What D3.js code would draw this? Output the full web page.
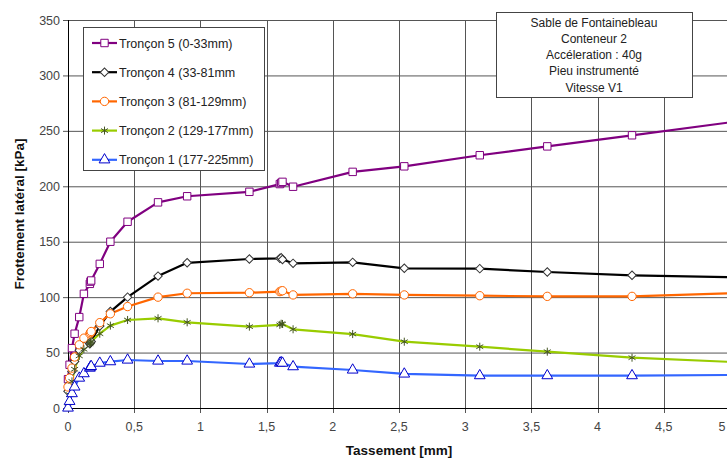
<!DOCTYPE html>
<html><head><meta charset="utf-8">
<script src="https://cdn.jsdelivr.net/npm/d3@7"></script>
<style>
html,body{margin:0;padding:0;background:#fff;overflow:hidden}
svg{display:block;font-family:"Liberation Sans",Arial,sans-serif}
</style></head>
<body>
<script>
// Settlement values (mm), shared by all series
const tassement = [0, 0.012, 0.03, 0.05, 0.085, 0.12, 0.165, 0.17, 0.175, 0.24, 0.32, 0.45, 0.68, 0.90, 1.37, 1.60, 1.61, 1.62, 1.70, 2.15, 2.54, 3.11, 3.62, 4.26, 5.02];
const troncon5 = [26, 39, 54, 67, 82, 103, 112, 114, 115, 130, 150, 168, 185.5, 191, 195, 202, 203, 204, 199.6, 213, 218, 228, 236, 246, 258];
const troncon4 = [15, 22, 33, 42, 52, 56, 58, 59, 60, 74, 87, 100, 119, 131, 134.4, 135, 135.5, 134, 130.5, 131.4, 126, 125.7, 122.7, 119.7, 118];
const troncon3 = [19, 27, 36, 46, 57, 63, 67, 68, 69, 77, 85, 91.5, 100, 103.5, 104, 105, 105.5, 105.8, 102, 103, 102, 101.3, 100.7, 100.7, 103.5];
const troncon2 = [1, 12, 24, 35, 47, 53, 58, 59, 60, 67, 74.3, 79.4, 80.9, 77.3, 73.4, 75, 76, 75.8, 71, 66.7, 59.8, 55.3, 50.8, 45.4, 41.5];
const troncon1 = [0, 6, 13, 19, 27, 31, 36, 37, 37.5, 40.5, 41.8, 43.3, 42.4, 42.4, 39.7, 40.5, 41, 40.5, 37.3, 34.3, 30.7, 29.2, 29.2, 29.2, 29.8];
const seriesNames = ["Tronçon 5 (0-33mm)", "Tronçon 4 (33-81mm", "Tronçon 3 (81-129mm)", "Tronçon 2 (129-177mm)", "Tronçon 1 (177-225mm)"];
const xTicks = [0, 0.5, 1, 1.5, 2, 2.5, 3, 3.5, 4, 4.5, 5];
const xTickLabels = ["0", "0,5", "1", "1,5", "2", "2,5", "3", "3,5", "4", "4,5", "5"];
const yTicks = [0, 50, 100, 150, 200, 250, 300, 350];
const infoLines = ["Sable de Fontainebleau", "Conteneur 2", "Accéleration : 40g", "Pieu instrumenté", "Vitesse V1"];
const xTitle = "Tassement [mm]";
const yTitle = "Frottement latéral [kPa]";

const W = 727, H = 460;
const L = 68, R = 730, T = 20, B = 408;

const styles = [
  {color: "#800080", sym: d3.symbolSquare, fill: "#fff", stroke: "#800080", size: 55, rot: 0},
  {color: "#000000", sym: d3.symbolSquare, fill: "#fff", stroke: "#333", size: 36, rot: 45},
  {color: "#FF6600", sym: d3.symbolCircle, fill: "#fff", stroke: "#FF6600", size: 55, rot: 0},
  {color: "#99CC00", sym: d3.symbolAsterisk, fill: "none", stroke: "#445522", size: 45, rot: 0},
  {color: "#3366FF", sym: d3.symbolTriangle, fill: "#fff", stroke: "#0000CC", size: 50, rot: 0}
];
const allSeries = [troncon5, troncon4, troncon3, troncon2, troncon1];

const svg = d3.select("body").append("svg").attr("width", W).attr("height", H);

const x = d3.scaleLinear().domain([0, 5]).range([L, R]);
const y = d3.scaleLinear().domain([0, 350]).range([B, T]);

svg.append("defs").append("clipPath").attr("id", "clip")
  .append("rect").attr("x", L - 6).attr("y", T - 6).attr("width", R - L + 12).attr("height", B - T + 12);

// grid
const g = svg.append("g");
g.selectAll("line.h").data(yTicks).join("line")
  .attr("x1", L - 5).attr("x2", R).attr("y1", d => y(d) + 0.5).attr("y2", d => y(d) + 0.5)
  .attr("stroke", "#555").attr("stroke-width", 1);
g.selectAll("line.v").data(xTicks).join("line")
  .attr("x1", d => Math.round(x(d)) + 0.5).attr("x2", d => Math.round(x(d)) + 0.5)
  .attr("y1", T).attr("y2", B + 5)
  .attr("stroke", "#555").attr("stroke-width", 1);
// axis lines
g.append("line").attr("x1", L + 0.5).attr("x2", L + 0.5).attr("y1", T).attr("y2", B).attr("stroke", "#000");
g.append("line").attr("x1", L).attr("x2", R).attr("y1", B + 0.5).attr("y2", B + 0.5).attr("stroke", "#000");

// tick labels
svg.selectAll("text.yt").data(yTicks).join("text")
  .attr("x", L - 8).attr("y", d => y(d) + 4.5).attr("text-anchor", "end")
  .attr("font-size", 12.5).attr("fill", "#444").text(d => d);
svg.selectAll("text.xt").data(xTicks).join("text")
  .attr("x", d => Math.min(x(d), 722)).attr("y", B + 23).attr("text-anchor", "middle")
  .attr("font-size", 12.5).attr("fill", "#444").text((d, i) => xTickLabels[i]);

// titles
svg.append("text").attr("x", (L + R) / 2).attr("y", 455).attr("text-anchor", "middle")
  .attr("font-size", 13.5).attr("font-weight", "bold").attr("fill", "#111").text(xTitle);
svg.append("text").attr("transform", `translate(24,${(T + B) / 2}) rotate(-90)`).attr("text-anchor", "middle")
  .attr("font-size", 13.5).attr("font-weight", "bold").attr("fill", "#111").text(yTitle);

// series
const plot = svg.append("g").attr("clip-path", "url(#clip)");
const line = d3.line().x((d, i) => x(tassement[i])).y(d => y(d));
allSeries.forEach((vals, k) => {
  plot.append("path").datum(vals).attr("d", line).attr("fill", "none")
    .attr("stroke", styles[k].color).attr("stroke-width", 2.2).attr("stroke-linejoin", "round");
});
allSeries.forEach((vals, k) => {
  const st = styles[k];
  plot.selectAll(null).data(vals).join("path")
    .attr("transform", (d, i) => `translate(${x(tassement[i])},${y(d)}) rotate(${st.rot})`)
    .attr("d", d3.symbol().type(st.sym).size(st.size))
    .attr("fill", st.fill).attr("stroke", st.stroke).attr("stroke-width", 1);
});

// legend
const lg = svg.append("g");
lg.append("rect").attr("x", 83.5).attr("y", 27.5).attr("width", 181).attr("height", 143)
  .attr("fill", "#fff").attr("stroke", "#444");
seriesNames.forEach((name, k) => {
  const yy = 43 + k * 29.2;
  const st = styles[k];
  lg.append("line").attr("x1", 92).attr("x2", 117).attr("y1", yy).attr("y2", yy)
    .attr("stroke", st.color).attr("stroke-width", 2.2);
  lg.append("path").attr("transform", `translate(104.5,${yy}) rotate(${st.rot})`)
    .attr("d", d3.symbol().type(st.sym).size(st.size))
    .attr("fill", st.fill).attr("stroke", st.stroke).attr("stroke-width", 1);
  lg.append("text").attr("x", 119).attr("y", yy + 4.5).attr("font-size", 12.5).attr("fill", "#222").text(name);
});

// info box
const ib = svg.append("g");
ib.append("rect").attr("x", 496.5).attr("y", 12.5).attr("width", 196).attr("height", 85)
  .attr("fill", "#fff").attr("stroke", "#444");
infoLines.forEach((t, i) => {
  ib.append("text").attr("x", 594).attr("y", 26.5 + i * 16.3).attr("text-anchor", "middle")
    .attr("font-size", 12).attr("fill", "#222").text(t);
});
</script>
</body></html>
